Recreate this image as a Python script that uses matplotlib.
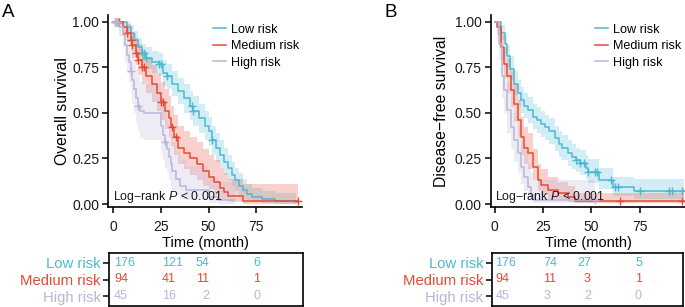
import numpy as np
import matplotlib
matplotlib.use('Agg')
import matplotlib.pyplot as plt
from matplotlib.lines import Line2D

plt.rcParams['font.family'] = ['Liberation Sans', 'DejaVu Sans']
plt.rcParams['mathtext.fontset'] = 'custom'
plt.rcParams['mathtext.rm'] = 'Liberation Sans'
plt.rcParams['mathtext.it'] = 'Liberation Sans:italic'

groups = ['Low risk', 'Medium risk', 'High risk']
colors = ['#4DB8D4', '#E64B35', '#B9B4DA']

# ---- panel A: overall survival ----
a_low_t = [0, 7, 9, 11, 13, 15, 17, 20, 24, 26, 28, 31, 34, 37, 40, 42, 45, 48, 50, 52, 54, 56, 58, 60, 62, 64, 66, 68, 70, 73, 78, 85, 96]
a_low_s = [1.0, 0.97, 0.94, 0.90, 0.86, 0.83, 0.80, 0.78, 0.77, 0.72, 0.70, 0.66, 0.62, 0.58, 0.54, 0.51, 0.47, 0.43, 0.40, 0.35, 0.31, 0.27, 0.23, 0.20, 0.16, 0.13, 0.10, 0.075, 0.055, 0.04, 0.025, 0.015, 0.01]
a_low_lo = [1.0, 0.94, 0.90, 0.86, 0.81, 0.78, 0.74, 0.72, 0.70, 0.65, 0.63, 0.59, 0.55, 0.50, 0.46, 0.43, 0.39, 0.35, 0.32, 0.27, 0.23, 0.20, 0.16, 0.13, 0.10, 0.07, 0.05, 0.03, 0.02, 0.01, 0.005, 0.002, 0.001]
a_low_hi = [1.0, 1.0, 0.98, 0.95, 0.91, 0.88, 0.86, 0.84, 0.83, 0.79, 0.77, 0.73, 0.69, 0.66, 0.62, 0.59, 0.55, 0.51, 0.48, 0.43, 0.39, 0.35, 0.31, 0.27, 0.23, 0.20, 0.17, 0.14, 0.11, 0.09, 0.07, 0.06, 0.05]
a_low_cens = [2, 3, 15, 16, 17, 24, 25, 28, 41, 42, 52]

a_med_t = [0, 5, 7, 9, 10, 12, 13, 15, 17, 20, 23, 25, 27, 29, 30, 32, 34, 37, 40, 44, 47, 50, 53, 56, 58, 60, 68, 97]
a_med_s = [1.0, 0.97, 0.94, 0.90, 0.87, 0.83, 0.79, 0.75, 0.70, 0.66, 0.61, 0.56, 0.51, 0.47, 0.42, 0.37, 0.31, 0.28, 0.25, 0.22, 0.18, 0.15, 0.12, 0.09, 0.065, 0.045, 0.015, 0.015]
a_med_lo = [1.0, 0.93, 0.89, 0.84, 0.80, 0.76, 0.71, 0.66, 0.61, 0.56, 0.51, 0.46, 0.41, 0.37, 0.32, 0.27, 0.22, 0.19, 0.16, 0.13, 0.10, 0.08, 0.05, 0.03, 0.02, 0.01, 0.002, 0.002]
a_med_hi = [1.0, 1.0, 0.99, 0.96, 0.94, 0.91, 0.88, 0.84, 0.80, 0.76, 0.72, 0.67, 0.63, 0.59, 0.54, 0.49, 0.43, 0.40, 0.37, 0.34, 0.30, 0.27, 0.24, 0.20, 0.17, 0.14, 0.11, 0.11]
a_med_cens = [1, 2, 3, 7, 9, 10, 12, 13, 15, 16, 25, 26, 31, 33, 97]

a_high_t = [0, 3, 5, 6, 7, 8, 9, 10, 11, 12, 13, 14, 16, 25, 26, 27, 28, 29, 30, 31, 33, 35, 38, 50, 55, 64]
a_high_s = [1.0, 0.97, 0.93, 0.87, 0.82, 0.78, 0.73, 0.68, 0.63, 0.58, 0.54, 0.51, 0.50, 0.43, 0.38, 0.34, 0.30, 0.26, 0.22, 0.18, 0.14, 0.10, 0.077, 0.04, 0.02, 0.02]
a_high_lo = [1.0, 0.92, 0.86, 0.78, 0.72, 0.67, 0.61, 0.55, 0.50, 0.44, 0.40, 0.36, 0.35, 0.28, 0.24, 0.20, 0.17, 0.13, 0.10, 0.07, 0.05, 0.03, 0.02, 0.005, 0.002, 0.002]
a_high_hi = [1.0, 1.0, 1.0, 0.97, 0.93, 0.90, 0.86, 0.82, 0.78, 0.74, 0.70, 0.67, 0.66, 0.59, 0.55, 0.50, 0.46, 0.42, 0.38, 0.34, 0.29, 0.24, 0.21, 0.15, 0.12, 0.12]
a_high_cens = [1, 2, 9, 13, 27]

# ---- panel B: disease-free survival ----
b_low_t = [0, 3, 5, 6.5, 8, 10, 12, 13.5, 15, 17, 20, 22, 24, 26, 28, 31, 33, 35, 38, 40, 42, 44, 47, 48, 54, 61, 72, 98]
b_low_s = [1.0, 0.94, 0.88, 0.81, 0.74, 0.66, 0.61, 0.57, 0.54, 0.515, 0.48, 0.46, 0.44, 0.42, 0.40, 0.36, 0.33, 0.31, 0.28, 0.26, 0.24, 0.225, 0.20, 0.175, 0.13, 0.093, 0.073, 0.073]
b_low_lo = [1.0, 0.90, 0.83, 0.75, 0.68, 0.60, 0.54, 0.50, 0.47, 0.445, 0.41, 0.39, 0.37, 0.35, 0.33, 0.29, 0.26, 0.24, 0.21, 0.19, 0.175, 0.16, 0.14, 0.115, 0.08, 0.045, 0.03, 0.03]
b_low_hi = [1.0, 0.98, 0.93, 0.87, 0.81, 0.73, 0.68, 0.64, 0.61, 0.585, 0.55, 0.53, 0.51, 0.49, 0.47, 0.43, 0.40, 0.38, 0.35, 0.33, 0.31, 0.295, 0.27, 0.245, 0.20, 0.15, 0.135, 0.135]
b_low_cens = [42, 44, 46, 48, 52, 53, 60, 62, 64, 75, 90, 92, 97]

b_med_t = [0, 1, 3, 4.7, 6.5, 8.2, 10, 11.8, 13.5, 15.3, 17, 19.6, 22.3, 24, 27.5, 32.8, 38, 41.6, 98]
b_med_s = [1.0, 0.97, 0.86, 0.77, 0.70, 0.625, 0.55, 0.46, 0.37, 0.31, 0.28, 0.205, 0.13, 0.105, 0.077, 0.058, 0.04, 0.016, 0.016]
b_med_lo = [1.0, 0.93, 0.79, 0.69, 0.61, 0.53, 0.45, 0.36, 0.27, 0.22, 0.19, 0.13, 0.07, 0.05, 0.03, 0.02, 0.01, 0.004, 0.003]
b_med_hi = [1.0, 1.0, 0.93, 0.86, 0.80, 0.73, 0.66, 0.57, 0.48, 0.42, 0.39, 0.30, 0.22, 0.19, 0.15, 0.12, 0.10, 0.06, 0.05]
b_med_cens = [65, 97]

b_high_t = [0, 2, 3.9, 4.7, 6.5, 8.2, 10, 11.8, 13.5, 15.3, 17, 18.8, 20.5, 52]
b_high_s = [1.0, 0.88, 0.70, 0.625, 0.515, 0.42, 0.35, 0.28, 0.205, 0.15, 0.095, 0.05, 0.022, 0.022]
b_high_lo = [1.0, 0.79, 0.58, 0.50, 0.39, 0.30, 0.23, 0.17, 0.11, 0.07, 0.035, 0.01, 0.003, 0.003]
b_high_hi = [1.0, 0.98, 0.84, 0.77, 0.67, 0.58, 0.50, 0.43, 0.35, 0.29, 0.22, 0.17, 0.13, 0.13]
b_high_cens = [52]

# numbers at risk
risk_times = [0, 25, 50, 75]
a_risk = [[176, 121, 54, 6], [94, 41, 11, 1], [45, 16, 2, 0]]
b_risk = [[176, 74, 27, 5], [94, 11, 3, 1], [45, 3, 2, 0]]

W, H = 685., 307.


def box(l, t, r, b):
    # pixel box -> figure fraction
    return [l / W, 1 - b / H, (r - l) / W, (b - t) / H]


def step_at(ts, ss, x):
    i = np.searchsorted(ts, x, side='right') - 1
    return ss[i]


def km_panel(ax, curves, xlim, ylabel, ylab_x, leg_x):
    for (t, s, lo, hi, cens), c in zip(curves, colors):
        ax.fill_between(t, lo, hi, step='post', color=c, alpha=0.25, lw=0)
    for (t, s, lo, hi, cens), c in zip(curves, colors):
        ax.step(t, s, where='post', color=c, lw=1.1)
        ax.plot(cens, [step_at(t, s, x) for x in cens], '+', color=c,
                ms=6, mew=1.0, ls='none')
    ax.set_xlim(*xlim)
    ax.set_ylim(-0.018, 1.037)
    ax.set_xticks(risk_times)
    ax.set_yticks([0, 0.25, 0.5, 0.75, 1.0])
    ax.set_yticklabels(['0.00', '0.25', '0.50', '0.75', '1.00'])
    for sp in ['top', 'right']:
        ax.spines[sp].set_visible(False)
    for sp in ['left', 'bottom']:
        ax.spines[sp].set_linewidth(1.2)
    ax.tick_params(labelsize=10, length=4.5, width=1.1, color='black', labelcolor='#1a1a1a')
    ax.tick_params(axis='y', pad=2)
    ax.tick_params(axis='x', pad=5)
    ax.set_ylabel(ylabel, fontsize=11.3)
    ax.yaxis.set_label_coords(ylab_x, 0.5)
    ax.yaxis.label.set_va('center')
    ax.set_xlabel('Time (month)', fontsize=10.5)
    ax.xaxis.set_label_coords(0.5, -0.186)
    ax.xaxis.label.set_va('center')
    handles = [Line2D([], [], color=c, lw=1.1) for c in colors]
    ax.legend(handles, groups, loc='upper left', bbox_to_anchor=(leg_x, 0.955),
              frameon=False, fontsize=9.1, handlelength=1.0, handletextpad=0.4,
              labelspacing=0.35, borderpad=0, borderaxespad=0)
    ax.text(0, 0.04, 'Log\u2212rank $\\mathit{P}$ < 0.001', fontsize=8.9,
            va='center', ha='left', color='#1a1a1a')


def risk_table(ax, counts, xlim):
    aligns = ['left', 'left', 'right', 'center']
    for row, (vals, c) in enumerate(zip(counts, colors)):
        y = 3 - row
        for x, v, ha in zip(risk_times, vals, aligns):
            ax.text(x, y, str(v), color=c, fontsize=9, ha=ha, va='center')
    ax.set_xlim(*xlim)
    ax.set_ylim(0.4, 3.6)
    ax.set_xticks([])
    ax.set_yticks([3, 2, 1])
    ax.set_yticklabels(groups, fontsize=10.7)
    for lab, c in zip(ax.get_yticklabels(), colors):
        lab.set_color(c)
    ax.tick_params(axis='y', length=4.5, width=1.1, pad=1.5)
    for sp in ax.spines.values():
        sp.set_linewidth(1.2)


fig = plt.figure(figsize=(W / 100., H / 100.), dpi=100)

axA = fig.add_axes(box(108.3, 15, 302, 207.3))
km_panel(axA,
         [(a_low_t, a_low_s, a_low_lo, a_low_hi, a_low_cens),
          (a_med_t, a_med_s, a_med_lo, a_med_hi, a_med_cens),
          (a_high_t, a_high_s, a_high_lo, a_high_hi, a_high_cens)],
         (-2.7, 99), 'Overall survival', -0.239, 0.54)

axB = fig.add_axes(box(491, 15, 685, 207.3))
km_panel(axB,
         [(b_low_t, b_low_s, b_low_lo, b_low_hi, b_low_cens),
          (b_med_t, b_med_s, b_med_lo, b_med_hi, b_med_cens),
          (b_high_t, b_high_s, b_high_lo, b_high_hi, b_high_cens)],
         (-2, 98.5), 'Disease\u2212free survival', -0.254, 0.536)

tA = fig.add_axes(box(109, 253, 302.7, 306))
risk_table(tA, a_risk, (-2.7, 99))
tB = fig.add_axes(box(491.7, 253, 683.3, 306))
risk_table(tB, b_risk, (-2, 98.5))

fig.text(0.003, 0.988, 'A', fontsize=13.5, va='top', ha='left')
fig.text(0.561, 0.988, 'B', fontsize=13.5, va='top', ha='left')

plt.savefig('out.png', dpi=100)
